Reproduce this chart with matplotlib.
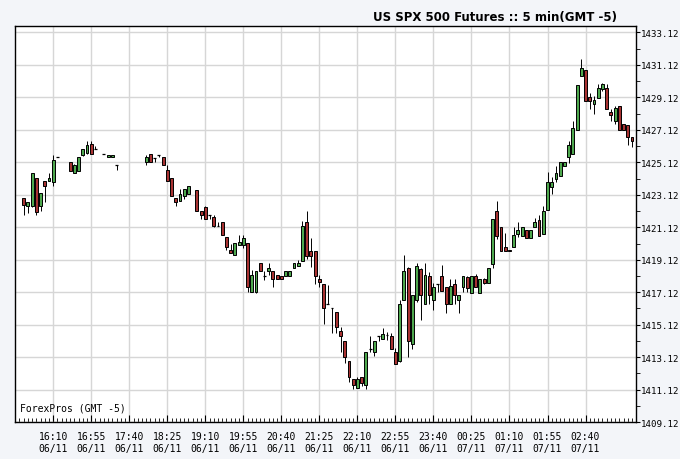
import matplotlib
matplotlib.use("Agg")
import matplotlib.pyplot as plt
from matplotlib.ticker import MultipleLocator, FixedLocator
import numpy as np

# 5 minute bars, slot 0 = 16:10 06/11 (GMT -5)
slot = [-7, -6, -5, -4, -3, -2, -1, 0, 1, 4, 5, 6, 7, 8, 9, 10, 12, 13, 14, 15,
        22, 23, 24, 25, 26, 27, 28, 29, 30, 31, 32, 34, 35, 36, 37, 38, 39, 40,
        41, 42, 43, 44, 45, 46, 47, 48, 49, 50, 51, 52, 53, 54, 55, 56, 57, 58,
        59, 60, 61, 62, 63, 64, 65, 66, 67, 68, 69, 70, 71, 72, 73, 74, 75, 76,
        77, 78, 79, 80, 81, 82, 83, 84, 85, 86, 87, 88, 89, 90, 91, 92, 93, 94,
        95, 96, 97, 98, 99, 100, 101, 102, 103, 104, 105, 106, 107, 108, 109,
        110, 111, 112, 113, 114, 115, 116, 117, 118, 119, 120, 121, 122, 123,
        124, 125, 126, 127, 128, 129, 130, 131, 132, 133, 134, 135, 136, 137]

op = [1422.92, 1422.41, 1422.41, 1424.15, 1422.41, 1423.95, 1423.95, 1423.92, 1425.42,
      1425.11, 1424.44, 1424.60, 1425.58, 1425.72, 1426.23, 1425.93, 1425.62, 1425.42,
      1425.42, 1424.95,
      1425.11, 1425.62, 1425.38, 1425.58, 1425.42, 1424.64, 1424.13, 1422.90, 1422.72,
      1423.03, 1423.17, 1423.43, 1422.11, 1422.39, 1421.88, 1421.74, 1421.18, 1421.43,
      1420.55, 1419.73, 1419.42, 1420.00, 1420.00, 1420.14, 1417.14, 1417.14, 1418.91,
      1418.14, 1418.40, 1418.40, 1418.16, 1418.14, 1418.12, 1418.12, 1418.63, 1418.71,
      1419.04, 1421.43, 1419.65, 1419.65, 1417.95, 1417.60, 1416.40, 1416.17, 1415.91,
      1414.76, 1414.13, 1412.90, 1411.76, 1411.25, 1411.90, 1411.41, 1413.62, 1413.46,
      1414.42, 1414.23, 1414.47, 1414.44, 1413.46, 1412.90, 1416.62, 1418.63, 1413.96,
      1416.62, 1418.52, 1416.42, 1418.12, 1416.62, 1417.65, 1418.15, 1417.44, 1416.42,
      1417.65, 1416.62, 1417.44, 1418.05, 1417.09, 1418.09, 1417.09, 1417.91, 1417.71,
      1418.87, 1422.14, 1421.12, 1419.90, 1419.73, 1419.90, 1420.71, 1420.61, 1420.96,
      1420.47, 1421.12, 1421.57, 1420.71, 1422.19, 1423.62, 1424.09, 1424.25, 1424.90,
      1425.42, 1425.66, 1427.09, 1430.42, 1430.77, 1429.14, 1428.73, 1429.10, 1429.65,
      1429.67, 1428.24, 1427.66, 1428.58, 1427.46, 1427.42, 1426.65]

hi = [1422.92, 1422.70, 1424.46, 1424.15, 1423.25, 1423.95, 1424.44, 1425.56, 1425.42,
      1425.11, 1425.00, 1425.42, 1425.93, 1426.44, 1426.44, 1426.13, 1425.62, 1425.55,
      1425.55, 1424.95,
      1425.58, 1425.62, 1425.38, 1425.58, 1425.42, 1424.95, 1424.13, 1422.90, 1423.47,
      1423.47, 1423.64, 1423.43, 1422.11, 1422.43, 1421.88, 1421.88, 1421.47, 1421.43,
      1420.55, 1420.10, 1420.14, 1420.65, 1420.65, 1420.14, 1418.46, 1418.40, 1418.91,
      1418.40, 1418.91, 1418.40, 1418.16, 1418.14, 1418.40, 1418.40, 1418.91, 1419.12,
      1421.53, 1422.14, 1420.47, 1419.65, 1418.16, 1417.60, 1417.54, 1416.17, 1415.91,
      1414.95, 1414.13, 1412.90, 1411.76, 1411.90, 1411.90, 1413.46, 1414.44, 1414.13,
      1414.42, 1414.93, 1414.68, 1414.63, 1413.66, 1416.62, 1419.42, 1418.70, 1416.97,
      1418.93, 1418.60, 1418.93, 1418.36, 1417.71, 1417.65, 1418.77, 1417.44, 1417.95,
      1417.91, 1416.93, 1418.15, 1418.15, 1418.15, 1418.22, 1417.95, 1418.00, 1418.63,
      1421.63, 1422.72, 1421.12, 1420.76, 1419.73, 1421.12, 1421.43, 1421.12, 1420.96,
      1420.96, 1421.68, 1421.88, 1422.41, 1424.50, 1424.19, 1424.90, 1425.11, 1425.11,
      1426.40, 1427.66, 1429.87, 1431.45, 1430.77, 1429.41, 1429.20, 1429.96, 1430.02,
      1429.92, 1428.38, 1428.58, 1428.58, 1427.46, 1427.42, 1426.65]

lo = [1421.90, 1422.02, 1422.35, 1421.90, 1422.11, 1422.66, 1423.95, 1423.64, 1425.42,
      1424.60, 1424.44, 1424.60, 1425.52, 1425.62, 1425.62, 1425.93, 1425.62, 1425.42,
      1425.42, 1424.64,
      1424.95, 1425.11, 1425.11, 1425.42, 1424.95, 1423.95, 1423.03, 1422.41, 1422.72,
      1422.86, 1423.17, 1422.11, 1421.64, 1421.64, 1421.64, 1421.12, 1421.18, 1420.65,
      1419.69, 1419.53, 1419.42, 1420.00, 1419.84, 1417.14, 1417.14, 1417.10, 1418.42,
      1417.89, 1418.16, 1417.44, 1417.95, 1417.93, 1418.12, 1418.12, 1418.63, 1418.71,
      1419.04, 1419.18, 1418.67, 1417.65, 1417.44, 1415.15, 1416.40, 1414.63, 1414.63,
      1413.46, 1412.74, 1411.61, 1411.16, 1411.20, 1411.37, 1411.16, 1413.46, 1413.21,
      1414.13, 1414.23, 1414.17, 1413.62, 1412.72, 1412.85, 1416.62, 1413.15, 1413.61,
      1416.50, 1415.44, 1416.42, 1416.42, 1416.05, 1417.14, 1417.20, 1415.85, 1416.42,
      1416.42, 1415.85, 1417.14, 1417.14, 1417.09, 1417.44, 1417.09, 1417.60, 1417.71,
      1418.63, 1420.41, 1419.65, 1419.65, 1419.65, 1419.90, 1420.51, 1420.61, 1420.45,
      1420.47, 1421.12, 1420.61, 1420.71, 1422.19, 1423.17, 1423.89, 1424.25, 1424.90,
      1425.07, 1425.66, 1427.09, 1430.42, 1428.89, 1428.42, 1428.12, 1429.10, 1429.50,
      1428.42, 1427.66, 1427.46, 1427.11, 1427.11, 1426.19, 1426.09]

cl = [1422.51, 1422.66, 1424.46, 1422.04, 1423.21, 1423.64, 1424.13, 1425.25, 1425.42,
      1424.60, 1424.95, 1425.42, 1425.93, 1426.17, 1425.62, 1425.93, 1425.62, 1425.55,
      1425.55, 1424.95,
      1425.42, 1425.11, 1425.38, 1425.58, 1424.95, 1423.95, 1423.03, 1422.66, 1423.17,
      1423.47, 1423.64, 1422.11, 1421.90, 1421.64, 1421.88, 1421.22, 1421.18, 1420.65,
      1419.90, 1419.53, 1420.14, 1420.21, 1420.45, 1417.44, 1418.16, 1418.40, 1418.42,
      1418.14, 1418.63, 1417.95, 1417.95, 1417.93, 1418.40, 1418.40, 1418.91, 1418.91,
      1421.22, 1419.38, 1419.38, 1418.12, 1417.75, 1416.15, 1416.40, 1416.17, 1414.95,
      1414.44, 1413.15, 1411.92, 1411.41, 1411.76, 1411.51, 1413.46, 1413.62, 1414.13,
      1414.42, 1414.52, 1414.47, 1413.62, 1412.72, 1416.42, 1418.42, 1414.11, 1416.97,
      1418.73, 1416.97, 1418.20, 1416.93, 1417.44, 1417.65, 1417.20, 1416.38, 1417.50,
      1416.93, 1416.93, 1418.09, 1417.40, 1418.15, 1417.44, 1417.95, 1417.69, 1418.63,
      1421.63, 1420.61, 1419.65, 1419.65, 1419.65, 1420.67, 1420.96, 1421.12, 1420.45,
      1420.96, 1421.43, 1420.61, 1422.11, 1423.92, 1423.92, 1424.46, 1425.11, 1425.11,
      1426.19, 1427.22, 1429.87, 1430.94, 1428.89, 1428.89, 1428.95, 1429.71, 1429.92,
      1428.42, 1428.03, 1428.44, 1427.11, 1427.11, 1426.68, 1426.40]

tick_slots = [0, 9, 18, 27, 36, 45, 54, 63, 72, 81, 90, 99, 108, 117, 126]
tick_times = ["16:10", "16:55", "17:40", "18:25", "19:10", "19:55", "20:40", "21:25",
              "22:10", "22:55", "23:40", "00:25", "01:10", "01:55", "02:40"]
tick_dates = ["06/11"] * 11 + ["07/11"] * 4

up_color = "#4ea84e"
down_color = "#a83232"
mono = "DejaVu Sans Mono"

fig = plt.figure(figsize=(6.8, 4.6), dpi=100, facecolor="#f3f5f9")
ax = fig.add_axes([0.022, 0.080, 0.913, 0.861])
ax.set_facecolor("white")

body_w = 0.68
for x, o, h, l, c in zip(slot, op, hi, lo, cl):
    if h > max(o, c):
        ax.vlines(x, max(o, c), h, color="black", lw=0.7, zorder=2)
    if l < min(o, c):
        ax.vlines(x, l, min(o, c), color="black", lw=0.7, zorder=2)
    if abs(c - o) < 0.03:
        ax.hlines(o, x - body_w / 2, x + body_w / 2, color="black", lw=0.9, zorder=3)
    else:
        col = up_color if c > o else down_color
        ax.bar(x, abs(c - o), bottom=min(o, c), width=body_w, color=col,
               edgecolor="black", linewidth=0.7, zorder=3)

ax.set_xlim(-9.06, 137.9)
ax.set_ylim(1409.12, 1433.5)

ax.yaxis.tick_right()
ax.set_yticks(np.arange(1409.12, 1433.2, 2))
ax.yaxis.set_minor_locator(FixedLocator(np.arange(1410.12, 1433.5, 2)))
ax.set_yticklabels([f"{v:.2f}" for v in np.arange(1409.12, 1433.2, 2)],
                   fontfamily=mono, fontsize=6.6)
ax.tick_params(axis="y", which="major", direction="out", length=3, pad=0.8, color="black")
ax.tick_params(axis="y", which="minor", direction="out", length=3, color="black")

ax.set_xticks(tick_slots)
ax.set_xticklabels([f"{t}\n{d}" for t, d in zip(tick_times, tick_dates)],
                   fontfamily=mono, fontsize=7, linespacing=1.3)
ax.xaxis.set_minor_locator(MultipleLocator(1))
ax.tick_params(axis="x", which="major", direction="in", length=5, pad=6, color="black")
ax.tick_params(axis="x", which="minor", direction="in", length=3, color="black")

ax.grid(True, which="major", color="#d6d6d6", lw=1, zorder=0)
ax.set_axisbelow(True)
for s in ax.spines.values():
    s.set_color("black")
    s.set_linewidth(1)

ax.text(0.008, 0.025, "ForexPros (GMT -5)", transform=ax.transAxes,
        fontfamily=mono, fontsize=7, ha="left", va="bottom")
fig.text(0.907, 0.947, "US SPX 500 Futures :: 5 min(GMT -5)", ha="right",
         va="bottom", fontsize=8.5, fontweight="bold", fontfamily="DejaVu Sans")

fig.savefig("out.png", dpi=100, facecolor=fig.get_facecolor())
